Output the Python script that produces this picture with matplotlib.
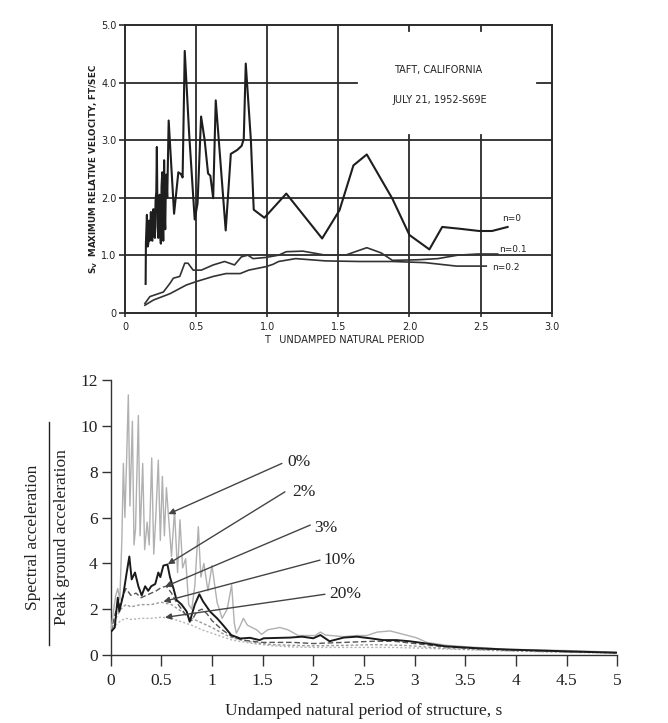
import matplotlib
matplotlib.use("Agg")
import matplotlib.pyplot as plt
from matplotlib.lines import Line2D

# ---------------- Upper chart data (Taft, California, S69E) ----------------
# period T (s), Sv (ft/sec)
n0_T = [0.145, 0.147, 0.154, 0.160, 0.164, 0.169, 0.173, 0.178, 0.182, 0.187, 0.192,
        0.196, 0.20, 0.205, 0.21, 0.215, 0.22, 0.224, 0.229, 0.234, 0.238, 0.243,
        0.247, 0.252, 0.257, 0.262, 0.266, 0.269, 0.275, 0.279, 0.283, 0.287, 0.29,
        0.297, 0.307, 0.345, 0.375, 0.393, 0.405, 0.42, 0.451, 0.49, 0.51, 0.535,
        0.56, 0.584, 0.60, 0.62, 0.638, 0.708, 0.744, 0.79, 0.82, 0.835, 0.849,
        0.885, 0.905, 0.98, 1.134, 1.386, 1.508, 1.606, 1.70, 1.88, 2.0, 2.14,
        2.23, 2.35, 2.49, 2.58, 2.69]
n0_V = [0.50, 1.20, 1.70, 1.15, 1.20, 1.60, 1.25, 1.45, 1.75, 1.30, 1.25,
        1.70, 1.80, 1.35, 1.30, 1.95, 2.10, 2.88, 1.50, 1.30, 1.90, 2.05,
        1.40, 1.20, 2.20, 2.44, 1.60, 1.25, 2.65, 1.70, 1.45, 2.20, 2.40,
        2.00, 3.34, 1.72, 2.44, 2.41, 2.35, 4.55, 3.11, 1.62, 1.90, 3.41,
        3.00, 2.42, 2.38, 1.99, 3.69, 1.43, 2.76, 2.83, 2.90, 3.02, 4.33,
        3.00, 1.79, 1.65, 2.07, 1.29, 1.78, 2.56, 2.75, 1.98, 1.35, 1.10,
        1.49, 1.46, 1.42, 1.42, 1.49]

n1_T = [0.14, 0.175, 0.27, 0.316, 0.34, 0.385, 0.42, 0.443, 0.479, 0.537, 0.62,
        0.70, 0.77, 0.818, 0.864, 0.90, 0.99, 1.08, 1.134, 1.25, 1.41, 1.55,
        1.70, 1.80, 1.88, 2.06, 2.20, 2.34, 2.48, 2.62]
n1_V = [0.16, 0.28, 0.36, 0.51, 0.60, 0.63, 0.86, 0.86, 0.74, 0.74, 0.83,
        0.89, 0.83, 0.97, 1.00, 0.94, 0.96, 1.00, 1.06, 1.07, 1.00, 1.00,
        1.13, 1.04, 0.91, 0.92, 0.94, 1.00, 1.02, 1.02]

n2_T = [0.14, 0.20, 0.316, 0.43, 0.50, 0.62, 0.71, 0.81, 0.87, 0.99, 1.04,
        1.08, 1.20, 1.41, 1.65, 1.88, 2.11, 2.33, 2.54]
n2_V = [0.13, 0.22, 0.33, 0.48, 0.54, 0.63, 0.68, 0.68, 0.74, 0.80, 0.84,
        0.89, 0.94, 0.90, 0.89, 0.89, 0.87, 0.81, 0.81]

up_xticks = [0, 0.5, 1.0, 1.5, 2.0, 2.5, 3.0]
up_xlabels = ["0", "0.5", "1.0", "1.5", "2.0", "2.5", "3.0"]
up_yticks = [0, 1.0, 2.0, 3.0, 4.0, 5.0]
up_ylabels = ["0", "1.0", "2.0", "3.0", "4.0", "5.0"]

# ---------------- Lower chart data (spectral acceleration ratio) ----------------
spec_0 = [(0, 1.0), (0.03, 2.0), (0.05, 2.6), (0.07, 2.9), (0.09, 2.4), (0.11, 5.0),
          (0.125, 8.36), (0.14, 6.0), (0.155, 8.2), (0.174, 11.35), (0.19, 6.5),
          (0.214, 10.2), (0.23, 4.8), (0.245, 5.5), (0.273, 10.45), (0.29, 5.2),
          (0.316, 8.36), (0.335, 4.6), (0.36, 5.8), (0.38, 4.8), (0.405, 8.6),
          (0.425, 4.4), (0.445, 6.0), (0.47, 8.5), (0.49, 5.0), (0.51, 7.8),
          (0.53, 5.2), (0.55, 7.3), (0.569, 6.15), (0.60, 4.3), (0.63, 6.3),
          (0.66, 3.6), (0.684, 5.9), (0.71, 3.8), (0.74, 4.2), (0.77, 2.2),
          (0.80, 2.0), (0.83, 3.0), (0.865, 5.6), (0.89, 3.4), (0.92, 4.0),
          (0.96, 2.8), (1.0, 3.9), (1.05, 2.3), (1.10, 1.6), (1.15, 2.0),
          (1.194, 3.06), (1.22, 1.4), (1.24, 0.95), (1.27, 1.2), (1.31, 1.6),
          (1.35, 1.3), (1.44, 1.1), (1.49, 0.9), (1.55, 1.1), (1.67, 1.2),
          (1.75, 1.1), (1.85, 0.85), (2.02, 0.85), (2.07, 1.0), (2.12, 0.87),
          (2.30, 0.8), (2.43, 0.85), (2.53, 0.85), (2.63, 1.0), (2.76, 1.05),
          (2.89, 0.9), (3.02, 0.75), (3.12, 0.55), (3.32, 0.42), (3.58, 0.34),
          (3.91, 0.25), (4.24, 0.22), (4.53, 0.19), (5.0, 0.12)]
spec_2 = [(0, 1.0), (0.04, 1.2), (0.06, 2.1), (0.07, 2.5), (0.085, 1.9), (0.125, 2.65),
          (0.158, 3.6), (0.184, 4.3), (0.207, 3.3), (0.24, 3.6), (0.273, 3.0),
          (0.306, 2.6), (0.34, 3.0), (0.37, 2.8), (0.40, 3.0), (0.44, 3.1),
          (0.47, 3.6), (0.49, 3.4), (0.52, 3.9), (0.56, 3.95), (0.585, 3.4),
          (0.62, 2.9), (0.65, 2.4), (0.70, 2.2), (0.75, 1.9), (0.78, 1.45),
          (0.83, 2.2), (0.875, 2.65), (0.91, 2.35), (0.98, 1.9), (1.05, 1.6),
          (1.11, 1.3), (1.19, 0.87), (1.28, 0.72), (1.375, 0.75), (1.47, 0.65),
          (1.51, 0.73), (1.77, 0.76), (1.89, 0.8), (2.0, 0.73), (2.07, 0.87),
          (2.16, 0.6), (2.30, 0.76), (2.43, 0.8), (2.56, 0.73), (2.69, 0.65),
          (2.82, 0.65), (2.95, 0.6), (3.12, 0.5), (3.30, 0.38), (3.60, 0.3),
          (3.90, 0.24), (4.20, 0.2), (4.50, 0.16), (5.0, 0.1)]
spec_3 = [(0, 1.0), (0.05, 1.9), (0.10, 2.3), (0.15, 2.9), (0.20, 2.6), (0.25, 2.7),
          (0.30, 2.5), (0.35, 2.6), (0.40, 2.7), (0.45, 2.8), (0.50, 2.95),
          (0.55, 3.0), (0.60, 2.7), (0.65, 2.3), (0.70, 2.0), (0.75, 1.7),
          (0.80, 1.5), (0.85, 1.9), (0.90, 2.0), (0.95, 1.8), (1.0, 1.5),
          (1.1, 1.1), (1.2, 0.8), (1.3, 0.65), (1.5, 0.55), (1.8, 0.55),
          (2.0, 0.5), (2.3, 0.55), (2.6, 0.6), (2.8, 0.6), (3.0, 0.5),
          (3.2, 0.4), (3.5, 0.3), (4.0, 0.22), (4.5, 0.15), (5.0, 0.1)]
spec_10 = [(0, 1.0), (0.05, 1.6), (0.10, 2.0), (0.15, 2.2), (0.20, 2.1), (0.30, 2.2),
           (0.40, 2.2), (0.50, 2.3), (0.60, 2.2), (0.70, 1.9), (0.80, 1.6),
           (0.90, 1.4), (1.0, 1.2), (1.1, 0.95), (1.2, 0.75), (1.4, 0.55),
           (1.6, 0.45), (1.8, 0.42), (2.0, 0.4), (2.3, 0.42), (2.6, 0.45),
           (2.9, 0.42), (3.2, 0.32), (3.5, 0.25), (4.0, 0.18), (4.5, 0.13), (5.0, 0.1)]
spec_20 = [(0, 1.0), (0.05, 1.3), (0.10, 1.5), (0.15, 1.6), (0.20, 1.55), (0.30, 1.6),
           (0.40, 1.6), (0.50, 1.65), (0.60, 1.6), (0.70, 1.45), (0.80, 1.3),
           (0.90, 1.1), (1.0, 0.95), (1.1, 0.8), (1.2, 0.65), (1.4, 0.5),
           (1.6, 0.4), (1.8, 0.35), (2.0, 0.33), (2.4, 0.33), (2.8, 0.33),
           (3.2, 0.28), (3.6, 0.22), (4.0, 0.16), (4.5, 0.12), (5.0, 0.08)]

damping_labels = ["0%", "2%", "3%", "10%", "20%"]
label_pos = [(1.74, 8.43), (1.79, 7.12), (2.01, 5.55), (2.10, 4.14), (2.155, 2.65)]
arrow_tail = [(1.69, 8.36), (1.72, 7.12), (1.97, 5.67), (2.066, 4.14), (2.115, 2.65)]
arrow_head = [(0.569, 6.15), (0.563, 3.96), (0.536, 2.98), (0.52, 2.33), (0.536, 1.64)]

low_xticks = [0, 0.5, 1, 1.5, 2, 2.5, 3, 3.5, 4, 4.5, 5]
low_xlabels = ["0", "0.5", "1", "1.5", "2", "2.5", "3", "3.5", "4", "4.5", "5"]
low_yticks = [0, 2, 4, 6, 8, 10, 12]

W, H = 668, 723
fig = plt.figure(figsize=(W / 100, H / 100), dpi=100)
fig.patch.set_facecolor("white")

# ================= Upper chart =================
SANS = "DejaVu Sans"
ax1 = fig.add_axes([125 / W, 1 - 312.7 / H, (551.7 - 125) / W, (312.7 - 25) / H])
ax1.set_xlim(0, 3.0)
ax1.set_ylim(0, 5.0)
gkw = dict(color="#2a2a2a", lw=1.3, zorder=1)
for xv in [0.5, 1.0, 1.5]:
    ax1.axvline(xv, **gkw)
for xv in [2.0, 2.5]:
    ax1.axvline(xv, ymin=0, ymax=3.08 / 5.0, **gkw)
    ax1.axvline(xv, ymin=0.98, ymax=1.0, **gkw)   # short inner ticks at top
for yv in [1.0, 2.0, 3.0]:
    ax1.axhline(yv, **gkw)
ax1.axhline(4.0, xmin=0, xmax=1.63 / 3.0, **gkw)
ax1.axhline(4.0, xmin=2.9 / 3.0, xmax=1, **gkw)

ax1.plot(n0_T, n0_V, color="#1e1e1e", lw=1.5, zorder=3)
ax1.plot(n1_T, n1_V, color="#333333", lw=1.2, zorder=3)
ax1.plot(n2_T, n2_V, color="#333333", lw=1.2, zorder=3)

ax1.text(2.65, 1.64, "n=0", fontsize=6.5, family=SANS, color="#222", ha="left", va="center")
ax1.text(2.63, 1.09, "n=0.1", fontsize=6.5, family=SANS, color="#222", ha="left", va="center")
ax1.text(2.58, 0.79, "n=0.2", fontsize=6.5, family=SANS, color="#222", ha="left", va="center")

ax1.text(2.2, 4.21, "TAFT, CALIFORNIA", fontsize=7, family=SANS, color="#222",
         ha="center", va="center")
ax1.text(2.21, 3.69, "JULY 21, 1952-S69E", fontsize=7, family=SANS, color="#222",
         ha="center", va="center")

ax1.set_xticks(up_xticks)
ax1.set_xticklabels(up_xlabels, fontsize=7, family=SANS, color="#222")
ax1.set_yticks(up_yticks)
ax1.set_yticklabels(up_ylabels, fontsize=7, family=SANS, color="#222")
ax1.tick_params(axis="x", direction="out", length=3, width=1.2, pad=4, color="#2a2a2a")
ax1.tick_params(axis="y", direction="out", length=4, width=1.2, pad=2, color="#2a2a2a")
for sp in ax1.spines.values():
    sp.set_linewidth(1.4)
    sp.set_color("#2a2a2a")
ax1.set_ylabel("S$_\\mathregular{V}$  MAXIMUM RELATIVE VELOCITY, FT/SEC", fontsize=6.3,
               family=SANS, weight="bold", color="#222", labelpad=1)
fig.text(344 / W, 1 - 340 / H, "T   UNDAMPED NATURAL PERIOD", fontsize=7, family=SANS,
         color="#222", ha="center", va="center")

# ================= Lower chart =================
SERIF = "Liberation Serif"
ax2 = fig.add_axes([110.7 / W, 1 - 655 / H, (617.2 - 110.7) / W, (655 - 380) / H])
ax2.set_xlim(0, 5)
ax2.set_ylim(0, 12)
for sp in ["top", "right"]:
    ax2.spines[sp].set_visible(False)
for sp in ["left", "bottom"]:
    ax2.spines[sp].set_linewidth(1.0)
    ax2.spines[sp].set_color("#333")

def xy(series):
    return [p[0] for p in series], [p[1] for p in series]

t, v = xy(spec_20)
ax2.plot(t, v, color="#b5b5b5", lw=1.0, ls=(0, (1.5, 1.5)), zorder=2)
t, v = xy(spec_10)
ax2.plot(t, v, color="#999999", lw=1.0, ls=(0, (2, 1.5)), zorder=2)
t, v = xy(spec_3)
ax2.plot(t, v, color="#555555", lw=1.0, ls=(0, (4, 2)), zorder=2)
t, v = xy(spec_0)
ax2.plot(t, v, color="#b0b0b0", lw=1.0, zorder=3)
t, v = xy(spec_2)
ax2.plot(t, v, color="#1a1a1a", lw=1.4, zorder=4)

for lab, lp, tl, hd in zip(damping_labels, label_pos, arrow_tail, arrow_head):
    ax2.annotate("", xy=hd, xytext=tl,
                 arrowprops=dict(arrowstyle="-|>", color="#444", lw=1.0,
                                 mutation_scale=9, shrinkA=0, shrinkB=0), zorder=5)
    ax2.text(lp[0], lp[1], lab, fontsize=12.5, family=SERIF, color="#222",
             ha="left", va="center")

ax2.set_xticks(low_xticks)
ax2.set_xticklabels(low_xlabels, fontsize=12.5, family=SERIF, color="#222")
ax2.set_yticks(low_yticks)
ax2.set_yticklabels([str(y) for y in low_yticks], fontsize=12.5, family=SERIF, color="#222")
ax2.tick_params(axis="x", direction="out", length=8, width=1.0, pad=5, color="#333")
ax2.tick_params(axis="y", direction="out", length=6.5, width=1.0, pad=3, color="#333")

fig.text(364 / W, 1 - 711 / H, "Undamped natural period of structure, s", fontsize=12.5,
         family=SERIF, color="#222", ha="center", va="center")
fig.text(33.3 / W, 1 - 537 / H, "Spectral acceleration", fontsize=12.5, family=SERIF,
         color="#222", rotation=90, ha="center", va="center")
fig.text(61.7 / W, 1 - 537 / H, "Peak ground acceleration", fontsize=12.5, family=SERIF,
         color="#222", rotation=90, ha="center", va="center")
fig.add_artist(Line2D([49.3 / W, 49.3 / W], [1 - 645 / H, 1 - 421.7 / H],
                      color="#222", lw=1.0))

fig.savefig("out.png", dpi=100, facecolor="white")
